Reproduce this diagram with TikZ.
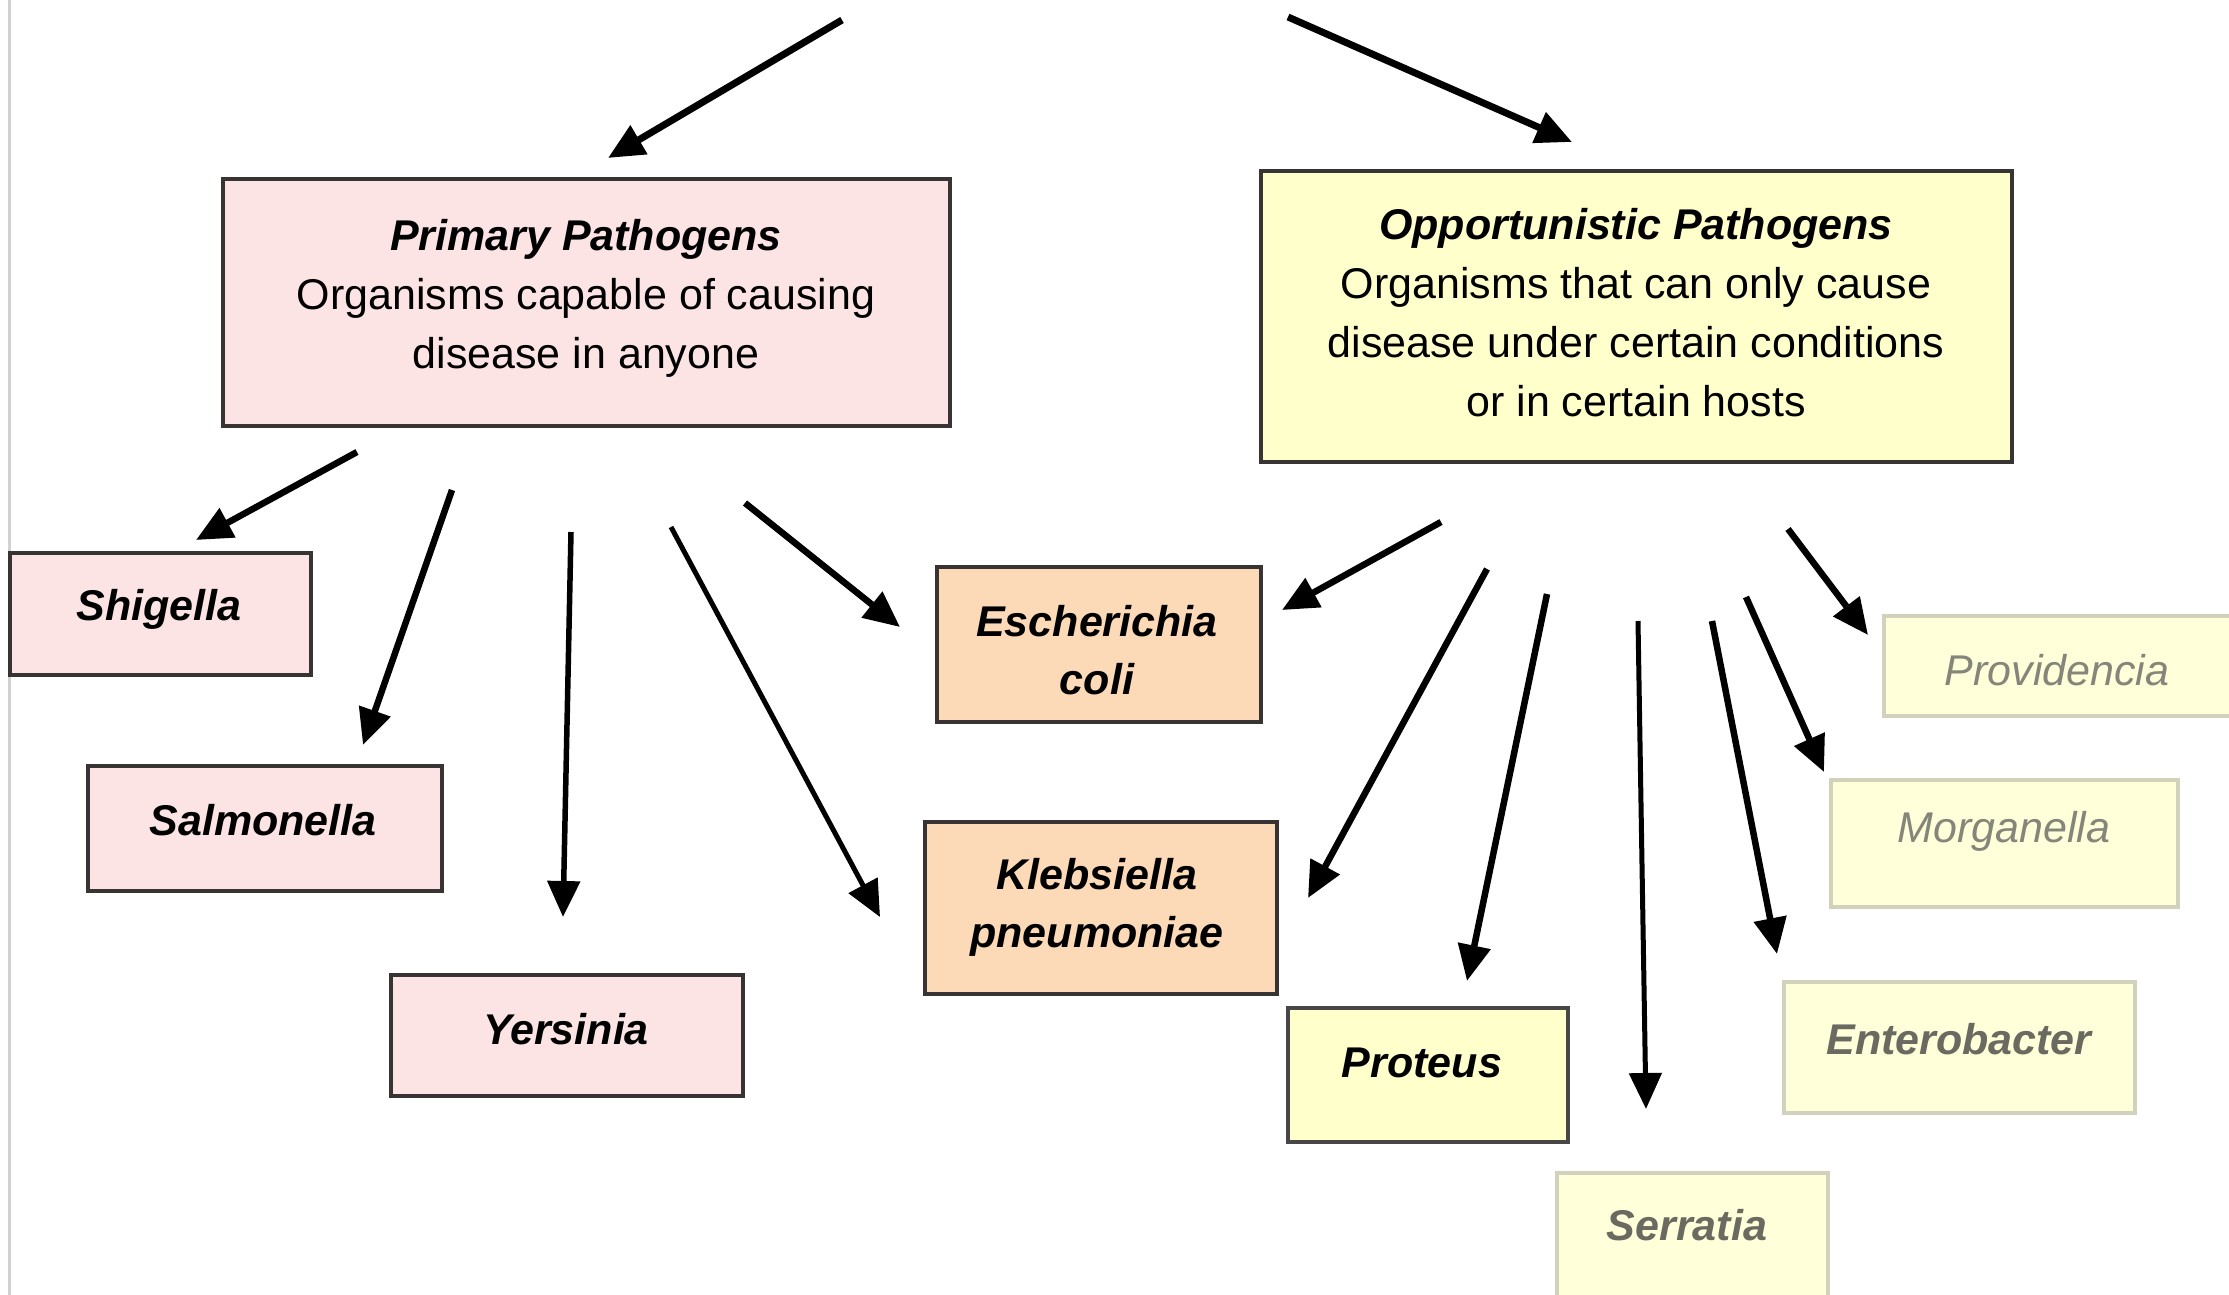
\documentclass[tikz,border=0pt]{standalone}
\usepackage{fontspec}
\setmainfont{Liberation Sans}
\usetikzlibrary{arrows.meta}
\definecolor{pinkfill}{HTML}{FDE4E4}
\definecolor{yelfill}{HTML}{FFFFCC}
\definecolor{peachfill}{HTML}{FCDAB8}
\definecolor{fadefill}{HTML}{FFFFDA}
\definecolor{fadeborder}{HTML}{D2D2BC}
\definecolor{darkborder}{HTML}{383434}
\definecolor{fadetext}{HTML}{85857A}
\definecolor{fadetextdk}{HTML}{6A6A60}
\tikzset{
  boxbase/.style={draw=darkborder, line width=4.5pt, rectangle, inner sep=0pt},
  pinkbox/.style={boxbase, fill=pinkfill},
  yelbox/.style={boxbase, fill=yelfill},
  peachbox/.style={boxbase, fill=peachfill},
  fadebox/.style={rectangle, inner sep=0pt, draw=fadeborder, line width=4.5pt, fill=fadefill},
  bodytxt/.style={font=\fontsize{43}{59}\selectfont, align=center, inner sep=0pt},
  nametxt/.style={font=\fontsize{43}{58}\selectfont\bfseries\itshape, align=center, inner sep=0pt},
  fadetxt/.style={font=\fontsize{43}{58}\selectfont\itshape, text=fadetext, inner sep=0pt},
  fadebtxt/.style={font=\fontsize{43}{58}\selectfont\bfseries\itshape, text=fadetextdk, inner sep=0pt},
  arr/.style={-{Triangle[length=36pt,width=32pt]}, line width=6.5pt, black},
  toparr/.style={arr, line width=7pt}
}
\begin{document}
\begin{tikzpicture}[x=1pt,y=-1pt]
\useasboundingbox[fill=white] (0,0) rectangle (2229,1295);
\clip (0,0) rectangle (2229,1295);
\draw[line width=3pt, black!18] (9,0) -- (9,1295);

% main category boxes
\node[pinkbox, minimum width=727pt, minimum height=247pt] (prim) at (586.5,302.5) {};
\node[bodytxt] (primT) at (586,298) {{\bfseries\itshape Primary Pathogens}\\Organisms capable of causing\\disease in anyone};

\node[yelbox, minimum width=751pt, minimum height=291pt] (opp) at (1636.5,316.5) {};
\node[bodytxt] (oppT) at (1636,313) {{\bfseries\itshape Opportunistic Pathogens}\\Organisms that can only cause\\disease under certain conditions\\or in certain hosts};

% primary pathogens
\node[pinkbox, minimum width=301pt, minimum height=122pt] (shig) at (160.5,614) {};
\node[nametxt, anchor=base] (shigT) at (159,620) {Shigella};
\node[pinkbox, minimum width=354pt, minimum height=125pt] (salm) at (265,828.5) {};
\node[nametxt, anchor=base] (salmT) at (263,835) {Salmonella};
\node[pinkbox, minimum width=352pt, minimum height=121pt] (yers) at (567,1035.5) {};
\node[nametxt, anchor=base] (yersT) at (566,1044) {Yersinia};

% shared
\node[peachbox, minimum width=324pt, minimum height=155pt] (esch) at (1099,644.5) {};
\node[nametxt] (eschT) at (1097,650) {Escherichia\\coli};
\node[peachbox, minimum width=352pt, minimum height=172pt] (kleb) at (1101,908) {};
\node[nametxt] (klebT) at (1097,907) {Klebsiella\\pneumoniae};

% opportunistic
\node[yelbox, draw=black!72, minimum width=280pt, minimum height=134pt] (prot) at (1428,1075) {};
\node[nametxt, anchor=base] (protT) at (1422,1077) {Proteus};
\node[fadebox, minimum width=271pt, minimum height=134pt] (serr) at (1692.5,1240) {};
\node[fadebtxt, anchor=base] (serrT) at (1687,1240) {Serratia};
\node[fadebox, minimum width=351pt, minimum height=131pt] (ent) at (1959.5,1047.5) {};
\node[fadebtxt, anchor=base] (entT) at (1959,1054) {Enterobacter};
\node[fadebox, minimum width=347pt, minimum height=127pt] (morg) at (2004.5,843.5) {};
\node[fadetxt, anchor=base] (morgT) at (2004,842) {Morganella};
\node[fadebox, minimum width=352pt, minimum height=100pt] (prov) at (2060,666) {};
\node[fadetxt, anchor=base] (provT) at (2057,685) {Providencia};

% arrow end points
\coordinate (t1s) at (842,20);   \coordinate (t1e) at (608,158);
\coordinate (t2s) at (1288,17);  \coordinate (t2e) at (1572,142);
\coordinate (p1s) at (357,452);  \coordinate (p1e) at (196,540);
\coordinate (p2s) at (452,490);  \coordinate (p2e) at (363,745);
\coordinate (p3s) at (571,532);  \coordinate (p3e) at (563,917);
\coordinate (p4s) at (671,527);  \coordinate (p4e) at (880,917);
\coordinate (p5s) at (745,503);  \coordinate (p5e) at (900,627);
\coordinate (o1s) at (1441,522); \coordinate (o1e) at (1282,610);
\coordinate (o2s) at (1487,569); \coordinate (o2e) at (1308,898);
\coordinate (o3s) at (1547,594); \coordinate (o3e) at (1467,981);
\coordinate (o4s) at (1638,621); \coordinate (o4e) at (1646,1109);
\coordinate (o5s) at (1712,621); \coordinate (o5e) at (1777,954);
\coordinate (o6s) at (1746,597); \coordinate (o6e) at (1824,772);
\coordinate (o7s) at (1788,529); \coordinate (o7e) at (1868,635);

\draw[toparr] (t1s) -- (t1e);
\draw[toparr] (t2s) -- (t2e);
\draw[arr] (p1s) -- (p1e);
\draw[arr] (p2s) -- (p2e);
\draw[arr, line width=5.5pt] (p3s) -- (p3e);
\draw[arr, line width=5pt] (p4s) -- (p4e);
\draw[arr] (p5s) -- (p5e);
\draw[arr] (o1s) -- (o1e);
\draw[arr] (o2s) -- (o2e);
\draw[arr] (o3s) -- (o3e);
\draw[arr, line width=5pt] (o4s) -- (o4e);
\draw[arr] (o5s) -- (o5e);
\draw[arr] (o6s) -- (o6e);
\draw[arr] (o7s) -- (o7e);
\end{tikzpicture}
\end{document}
